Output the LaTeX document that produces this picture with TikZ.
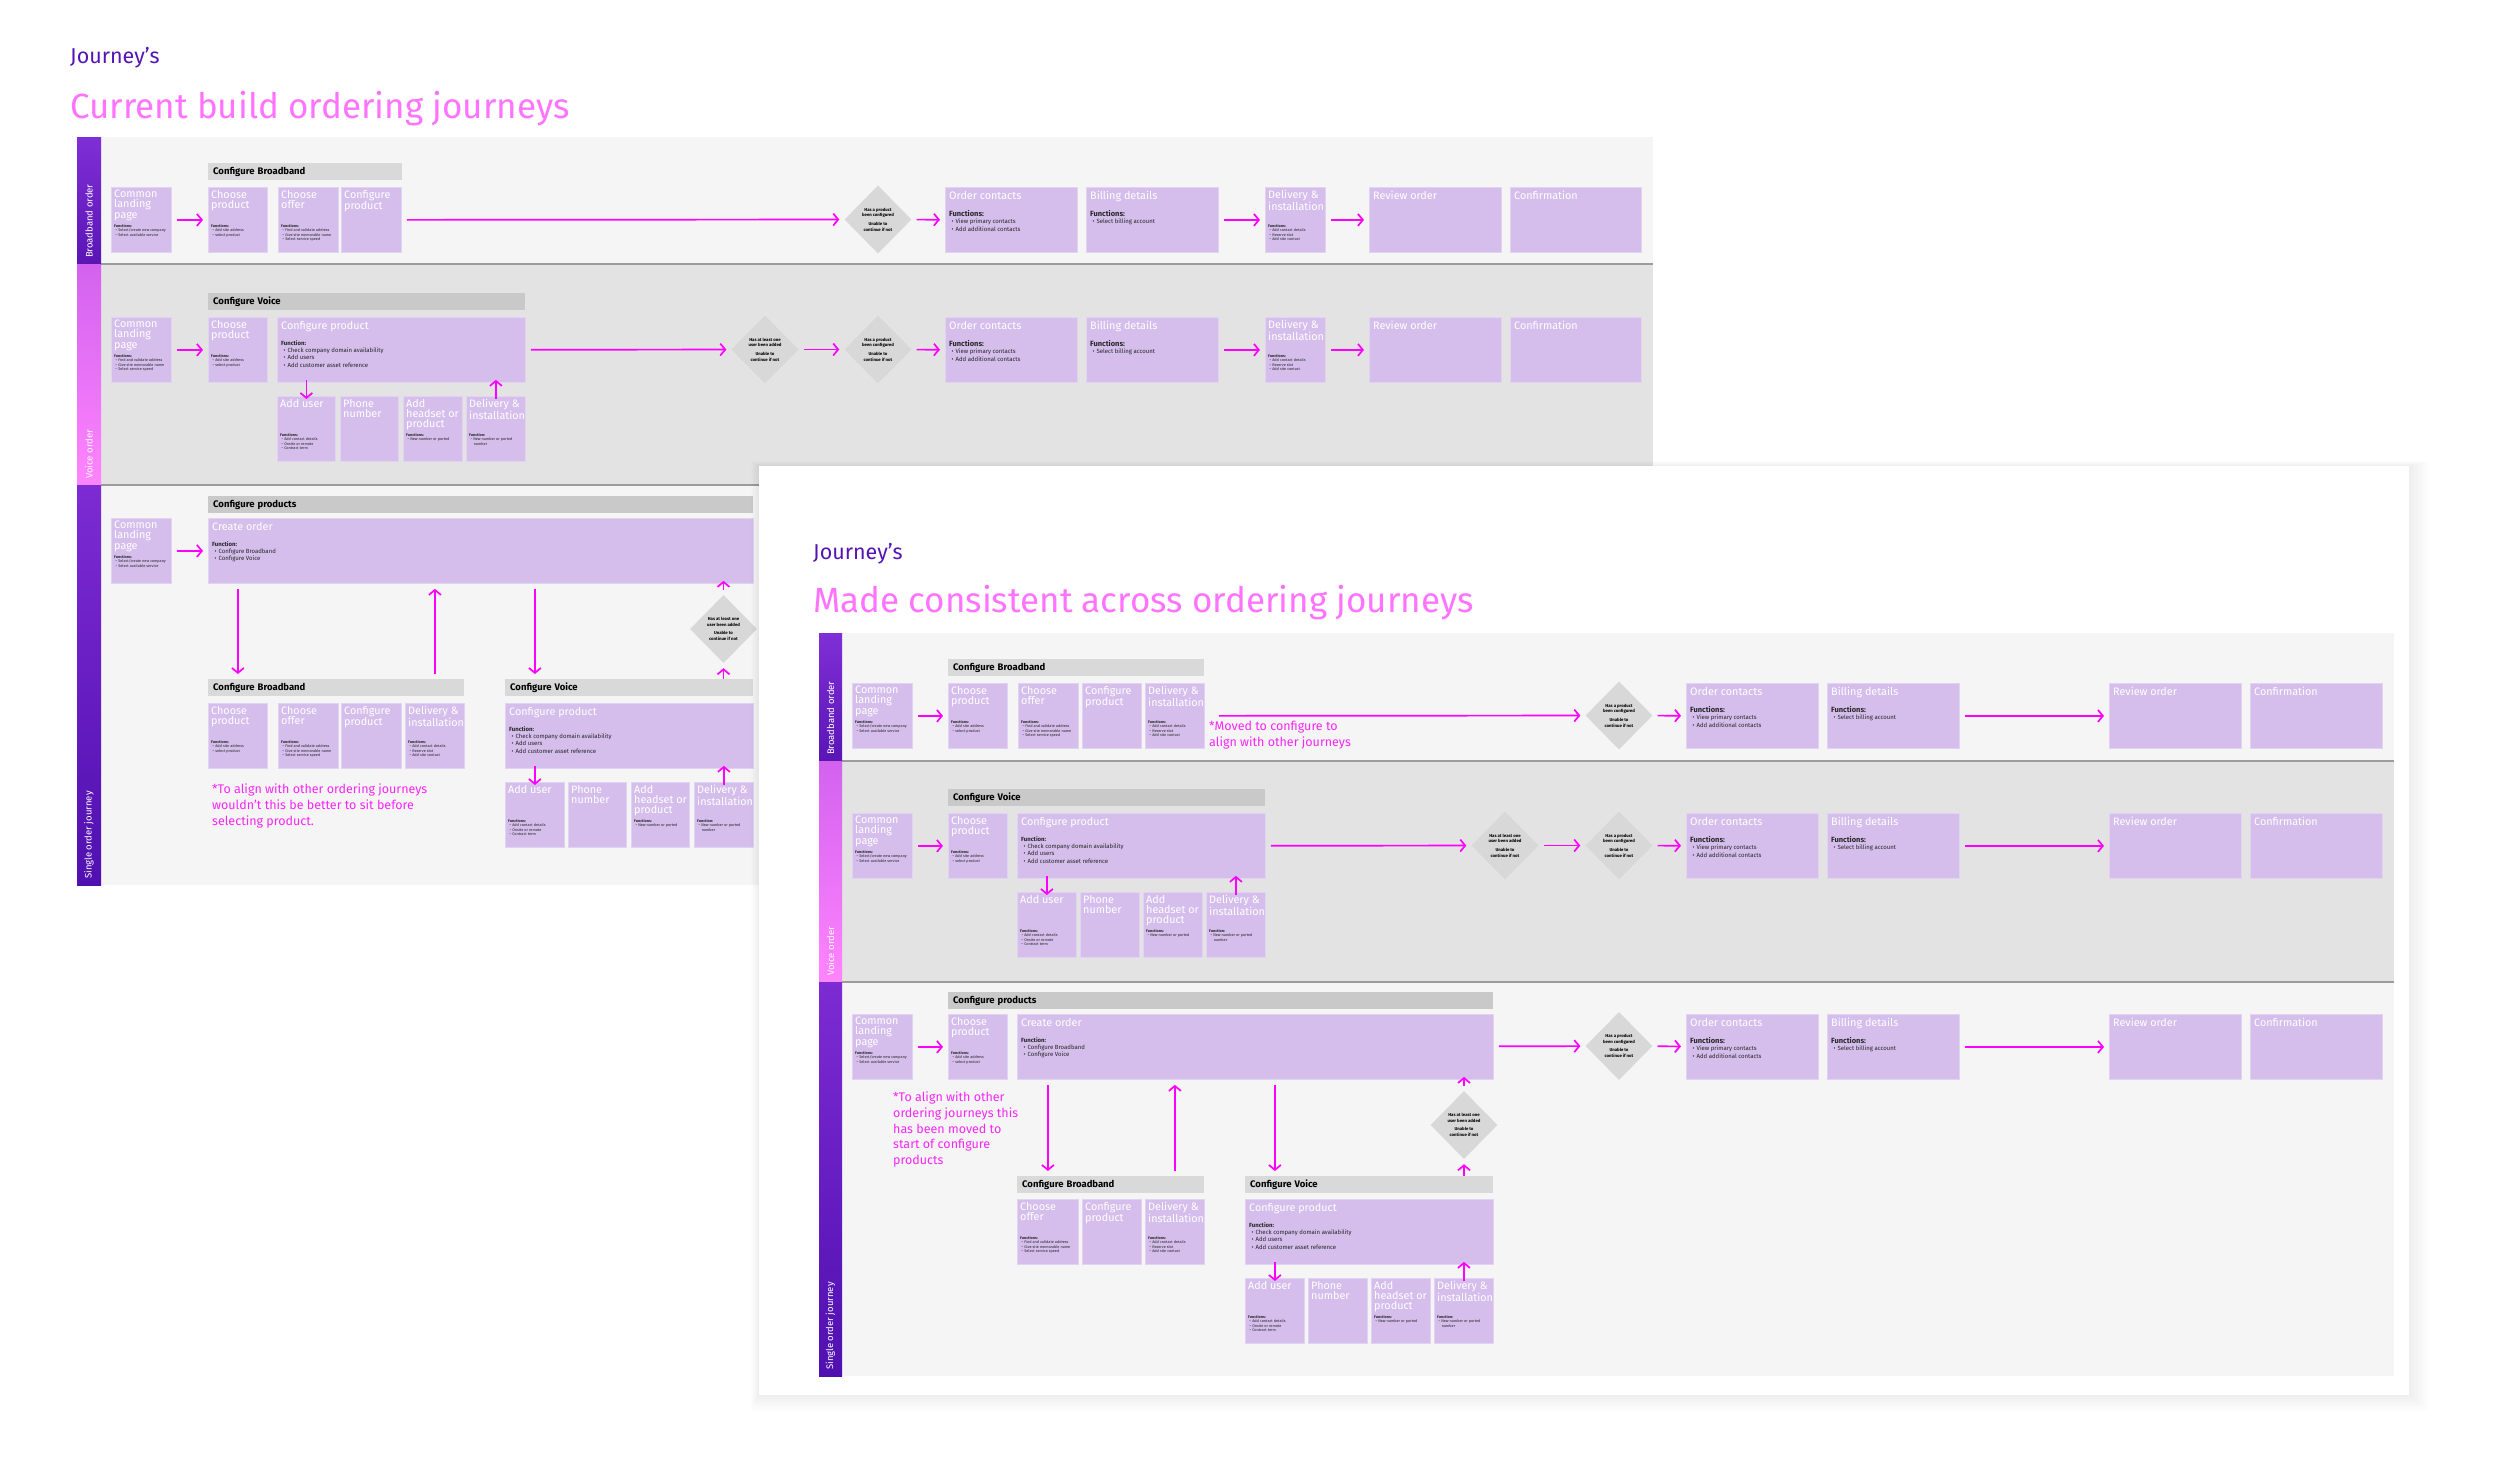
\documentclass[tikz,border=0pt]{standalone}
\usepackage{fontspec}
\setmainfont{Fira Sans}
\usetikzlibrary{arrows.meta,shapes.geometric}
\definecolor{btpurple}{HTML}{5514B4}
\definecolor{flowpink}{HTML}{FF00FF}
\definecolor{titlepink}{HTML}{FF73FF}
\definecolor{notepink}{HTML}{F726F7}
\definecolor{cardfill}{HTML}{D5BEEC}
\definecolor{cardedge}{HTML}{E2D3F3}
\definecolor{lanelight}{HTML}{F5F5F5}
\definecolor{lanedark}{HTML}{E3E3E3}
\definecolor{headlight}{HTML}{D9D9D9}
\definecolor{headdark}{HTML}{C9C9C9}
\definecolor{decfill}{HTML}{D8D8D8}
\definecolor{sepgray}{HTML}{9C9C9C}
\definecolor{bbtop}{HTML}{7F2FD6}
\definecolor{bbbot}{HTML}{5A15B5}
\definecolor{vctop}{HTML}{D262EE}
\definecolor{vcbot}{HTML}{FF84FF}
\definecolor{sgtop}{HTML}{7D2BD3}
\definecolor{sgbot}{HTML}{5010B0}
\newcommand\fsz[2]{\fontsize{#1}{#2}\selectfont}
\newcommand\fbul{\hspace*{0.4em}\textbullet\hspace{0.35em}}
\newcommand\fnhead[1]{\textbf{#1}}
\newcommand\bighead[1]{{\fsz{7.5}{8}\bfseries #1}}
\newcommand\stepcard[7]{%
\node[card, minimum width=#4pt, minimum height=#5pt] (#1) at (#2,#3) {};
\node[ctitle] (#1-t) at ([shift={(3,3)}]#1.north west) {#6};
\node[cbody] (#1-b) at ([shift={(3,37)}]#1.north west) {#7};}
\newcommand\widecard[7]{%
\node[card, minimum width=#4pt, minimum height=#5pt] (#1) at (#2,#3) {};
\node[ctitle] (#1-t) at ([shift={(4,4)}]#1.north west) {#6};
\node[wbody] (#1-b) at ([shift={(4,23)}]#1.north west) {#7};}
\newcommand\grouphdr[6]{%
\pgfmathsetmacro\headw{#4-10}
\node[grouphead, fill=#5, text width=\headw pt] (#1) at (#2,#3) {#6};}
\newcommand\checkpt[4]{%
\node[checkpoint] (#1) at (#2,#3) {};
\node[checktext] (#1-t) at (#1) {#4\\[3pt]Unable to\\continue if not};}

\begin{document}
\begin{tikzpicture}[x=1pt, y=-1pt,
card/.style={rectangle, fill=cardfill, draw=cardedge, line width=0.8pt, inner sep=0, anchor=north west},
ctitle/.style={inner sep=0, anchor=north west, align=left, text=white, font=\fsz{10.8}{10.2}},
cbody/.style={inner sep=0, anchor=north west, align=left, text=black!85, font=\fsz{3.8}{4.4}},
wbody/.style={inner sep=0, anchor=north west, align=left, text=black!85, font=\fsz{6}{7.4}},
grouphead/.style={anchor=north west, inner xsep=5pt, inner ysep=0, minimum height=17pt, align=left, font=\bfseries\fsz{9.5}{10}},
checkpoint/.style={diamond, fill=decfill, minimum width=67pt, minimum height=68pt, inner sep=0},
checktext/.style={align=center, inner sep=0, font=\bfseries\fsz{4.3}{5.6}},
flow/.style={draw=flowpink, line width=1.7pt, -{Straight Barb[length=5pt,width=12pt]}, shorten <=5pt, shorten >=5pt},
stub/.style={flow, shorten <=-3pt, shorten >=-3pt},
lanelabel/.style={rotate=90, anchor=west, inner sep=0, text=white, font=\fsz{9.5}{10}},
note/.style={anchor=north west, inner sep=0, align=left, text=notepink, font=\fsz{12.5}{15.6}},
pagetitle/.style={anchor=base west, inner sep=0, text=titlepink, font=\fsz{35}{40}},
kicker/.style={anchor=base west, inner sep=0, text=btpurple, font=\fsz{21.5}{24}}]
\useasboundingbox (0,0) rectangle (2500,1468);
\fill[white] (0,0) rectangle (2500,1468);
\node[kicker] (k1) at (70,63) {Journey’s};
\node[pagetitle] (t1) at (70,118) {Current build ordering journeys};
\fill[lanelight] (101,137) rectangle (1653,264);
\fill[lanedark] (101,264) rectangle (1653,485);
\fill[lanelight] (101,485) rectangle (1653,885);
\draw[sepgray, line width=1.5pt] (101,264) -- (1653,264);
\draw[sepgray, line width=1.5pt] (101,485) -- (1653,485);
\shade[top color=bbtop, bottom color=bbbot] (77,137) rectangle (101,264);
\shade[top color=vctop, bottom color=vcbot] (77,264) rectangle (101,485);
\shade[top color=sgtop, bottom color=sgbot] (77,485) rectangle (101,885);
\node[lanelabel] (lb1) at (89,258) {Broadband order};
\node[lanelabel] (lv1) at (89,479) {Voice order};
\node[lanelabel] (ls1) at (89,879) {Single order journey};
\grouphdr{bh1}{208}{163}{194}{headlight}{Configure Broadband}
\stepcard{bl1}{111}{187}{60}{65}{Common\\landing\\page}{\fnhead{Functions:}\\\fbul Select/create new company\\\fbul Select available service}
\stepcard{bp1}{208}{187}{59}{65}{Choose\\product}{\fnhead{Functions:}\\\fbul Add site address\\\fbul select product}
\stepcard{bf1}{278}{187}{60}{65}{Choose\\offer}{\fnhead{Functions:}\\\fbul Find and validate address\\\fbul Give site memorable name\\\fbul Select service speed}
\stepcard{bc1}{341}{187}{60}{65}{Configure\\product}{}
\checkpt{bd1}{878}{219.5}{Has a product\\been configured}
\widecard{bo1}{945}{187}{132}{65}{Order contacts}{\bighead{Functions:}\\\fbul View primary contacts\\\fbul Add additional contacts}
\widecard{bb1}{1086}{187}{132}{65}{Billing details}{\bighead{Functions:}\\\fbul Select billing account}
\stepcard{bi1}{1265}{187}{60}{65}{Delivery \&\\installation}{\fnhead{Functions:}\\\fbul Add contact details\\\fbul Reserve slot\\\fbul Add site contact}
\widecard{br1}{1369}{187}{132}{65}{Review order}{}
\widecard{bx1}{1510}{187}{131}{65}{Confirmation}{}
\draw[flow] (bl1) -- (bp1);
\draw[flow] (bc1) -- (bd1);
\draw[flow] (bd1) -- (bo1);
\draw[flow] (bb1) -- (bi1);
\draw[flow] (bi1) -- (br1);
\grouphdr{vh1}{208}{293}{317}{headdark}{Configure Voice}
\stepcard{vl1}{111}{317}{60}{65}{Common\\landing\\page}{\fnhead{Functions:}\\\fbul Find and validate address\\\fbul Give site memorable name\\\fbul Select service speed}
\stepcard{vp1}{208}{317}{59}{65}{Choose\\product}{\fnhead{Functions:}\\\fbul Add site address\\\fbul select product}
\widecard{vc1}{277}{317}{248}{65}{Configure product}{\fnhead{Function:}\\\fbul Check company domain availability\\\fbul Add users\\\fbul Add customer asset reference}
\stepcard{vu1}{277}{396}{58}{65}{Add user}{\fnhead{Functions:}\\\fbul Add contact details\\\fbul Onsite or remote\\\fbul Contract term}
\stepcard{vn1}{340}{396}{58}{65}{Phone\\number}{}
\stepcard{va1}{403}{396}{59}{65}{Add\\headset or\\product}{\fnhead{Functions:}\\\fbul New number or ported}
\stepcard{vi1}{466}{396}{59}{65}{Delivery \&\\installation}{\fnhead{Function:}\\\fbul New number or ported\\\hspace*{1.2em}number}
\checkpt{vq1}{765}{349.5}{Has at least one\\user been added}
\checkpt{vd1}{878}{349.5}{Has a product\\been configured}
\widecard{vo1}{945}{317}{132}{65}{Order contacts}{\bighead{Functions:}\\\fbul View primary contacts\\\fbul Add additional contacts}
\widecard{vb1}{1086}{317}{132}{65}{Billing details}{\bighead{Functions:}\\\fbul Select billing account}
\stepcard{vy1}{1265}{317}{60}{65}{Delivery \&\\installation}{\fnhead{Functions:}\\\fbul Add contact details\\\fbul Reserve slot\\\fbul Add site contact}
\widecard{vr1}{1369}{317}{132}{65}{Review order}{}
\widecard{vx1}{1510}{317}{131}{65}{Confirmation}{}
\draw[flow] (vl1) -- (vp1);
\draw[flow] (vc1) -- (vq1);
\draw[flow] (vq1) -- (vd1);
\draw[flow] (vd1) -- (vo1);
\draw[flow] (vb1) -- (vy1);
\draw[flow] (vy1) -- (vr1);
\draw[stub] (vc1.south -| vu1) -- (vu1.north);
\draw[stub] (vi1.north) -- (vc1.south -| vi1);
\grouphdr{sh1}{208}{496}{545}{headdark}{Configure products}
\stepcard{sl1}{111}{518}{60}{65}{Common\\landing\\page}{\fnhead{Functions:}\\\fbul Select/create new company\\\fbul Select available service}
\widecard{so1}{208}{518}{545}{65}{Create order}{\fnhead{Function:}\\\fbul Configure Broadband\\\fbul Configure Voice}
\grouphdr{sbh1}{208}{679}{256}{headlight}{Configure Broadband}
\stepcard{sbp1}{208}{703}{59}{65}{Choose\\product}{\fnhead{Functions:}\\\fbul Add site address\\\fbul select product}
\stepcard{sbf1}{278}{703}{60}{65}{Choose\\offer}{\fnhead{Functions:}\\\fbul Find and validate address\\\fbul Give site memorable name\\\fbul Select service speed}
\stepcard{sbc1}{341}{703}{60}{65}{Configure\\product}{}
\stepcard{sbi1}{405}{703}{59}{65}{Delivery \&\\installation}{\fnhead{Functions:}\\\fbul Add contact details\\\fbul Reserve slot\\\fbul Add site contact}
\grouphdr{svh1}{505}{679}{248}{headlight}{Configure Voice}
\widecard{svc1}{505}{703}{248}{65}{Configure product}{\fnhead{Function:}\\\fbul Check company domain availability\\\fbul Add users\\\fbul Add customer asset reference}
\stepcard{svu1}{505}{782}{59}{65}{Add user}{\fnhead{Functions:}\\\fbul Add contact details\\\fbul Onsite or remote\\\fbul Contract term}
\stepcard{svn1}{568}{782}{58}{65}{Phone\\number}{}
\stepcard{sva1}{631}{782}{58}{65}{Add\\headset or\\product}{\fnhead{Functions:}\\\fbul New number or ported}
\stepcard{svi1}{694}{782}{59}{65}{Delivery \&\\installation}{\fnhead{Function:}\\\fbul New number or ported\\\hspace*{1.2em}number}
\checkpt{sq1}{723.5}{629}{Has at least one\\user been added}
\node[note] (sn1) at (212,784) {*To align with other ordering journeys\\wouldn’t this be better to sit before\\selecting product.};
\draw[flow] (sl1) -- (so1);
\draw[flow] (so1.south -| sbp1) -- (sbh1.north -| sbp1);
\draw[flow] (sbh1.north -| sbi1) -- (so1.south -| sbi1);
\draw[flow] (so1.south -| svu1) -- (svh1.north -| svu1);
\draw[flow, shorten <=0pt] (svh1.north -| sq1) -- (sq1.south);
\draw[flow, shorten >=-3pt] (sq1.north) -- (so1.south -| sq1);
\draw[stub] (svc1.south -| svu1) -- (svu1.north);
\draw[stub] (svi1.north) -- (svc1.south -| svi1);
\foreach \s in {1,...,8}
\fill[black, opacity=0.008] (759-\s,466-\s*0.6) rectangle (2409+\s*2.5,1395+\s*2);
\fill[white] (759,466) rectangle (2409,1395);
\node[kicker] (k2) at (813,559) {Journey’s};
\node[pagetitle] (t2) at (813,612) {Made consistent across ordering journeys};
\fill[lanelight] (842,633) rectangle (2394,761);
\fill[lanedark] (842,761) rectangle (2394,982);
\fill[lanelight] (842,982) rectangle (2394,1376);
\draw[sepgray, line width=1.5pt] (842,761) -- (2394,761);
\draw[sepgray, line width=1.5pt] (842,982) -- (2394,982);
\shade[top color=bbtop, bottom color=bbbot] (819,633) rectangle (842,761);
\shade[top color=vctop, bottom color=vcbot] (819,761) rectangle (842,982);
\shade[top color=sgtop, bottom color=sgbot] (819,982) rectangle (842,1376);
\node[lanelabel] (lb2) at (830.5,755) {Broadband order};
\node[lanelabel] (lv2) at (830.5,976) {Voice order};
\node[lanelabel] (ls2) at (830.5,1370) {Single order journey};
\grouphdr{bh2}{948}{659}{256}{headlight}{Configure Broadband}
\stepcard{bl2}{852}{683}{60}{65}{Common\\landing\\page}{\fnhead{Functions:}\\\fbul Select/create new company\\\fbul Select available service}
\stepcard{bp2}{948}{683}{59}{65}{Choose\\product}{\fnhead{Functions:}\\\fbul Add site address\\\fbul select product}
\stepcard{bf2}{1018}{683}{60}{65}{Choose\\offer}{\fnhead{Functions:}\\\fbul Find and validate address\\\fbul Give site memorable name\\\fbul Select service speed}
\stepcard{bc2}{1082}{683}{59}{65}{Configure\\product}{}
\stepcard{bi2}{1145}{683}{59}{65}{Delivery \&\\installation}{\fnhead{Functions:}\\\fbul Add contact details\\\fbul Reserve slot\\\fbul Add site contact}
\node[note] (bn2) at (1209,721) {*Moved to configure to\\align with other journeys};
\checkpt{bd2}{1619}{715.5}{Has a product\\been configured}
\widecard{bo2}{1686}{683}{132}{65}{Order contacts}{\bighead{Functions:}\\\fbul View primary contacts\\\fbul Add additional contacts}
\widecard{bb2}{1827}{683}{132}{65}{Billing details}{\bighead{Functions:}\\\fbul Select billing account}
\widecard{br2}{2109}{683}{132}{65}{Review order}{}
\widecard{bx2}{2250}{683}{132}{65}{Confirmation}{}
\draw[flow] (bl2) -- (bp2);
\draw[flow, shorten <=14pt] (bi2) -- (bd2);
\draw[flow] (bd2) -- (bo2);
\draw[flow] (bb2) -- (br2);
\grouphdr{vh2}{948}{789}{317}{headdark}{Configure Voice}
\stepcard{vl2}{852}{813}{60}{65}{Common\\landing\\page}{\fnhead{Functions:}\\\fbul Select/create new company\\\fbul Select available service}
\stepcard{vp2}{948}{813}{59}{65}{Choose\\product}{\fnhead{Functions:}\\\fbul Add site address\\\fbul select product}
\widecard{vc2}{1017}{813}{248}{65}{Configure product}{\fnhead{Function:}\\\fbul Check company domain availability\\\fbul Add users\\\fbul Add customer asset reference}
\stepcard{vu2}{1017}{892}{59}{65}{Add user}{\fnhead{Functions:}\\\fbul Add contact details\\\fbul Onsite or remote\\\fbul Contract term}
\stepcard{vn2}{1080}{892}{59}{65}{Phone\\number}{}
\stepcard{va2}{1143}{892}{59}{65}{Add\\headset or\\product}{\fnhead{Functions:}\\\fbul New number or ported}
\stepcard{vi2}{1206}{892}{59}{65}{Delivery \&\\installation}{\fnhead{Function:}\\\fbul New number or ported\\\hspace*{1.2em}number}
\checkpt{vq2}{1505}{845.5}{Has at least one\\user been added}
\checkpt{vd2}{1619}{845.5}{Has a product\\been configured}
\widecard{vo2}{1686}{813}{132}{65}{Order contacts}{\bighead{Functions:}\\\fbul View primary contacts\\\fbul Add additional contacts}
\widecard{vb2}{1827}{813}{132}{65}{Billing details}{\bighead{Functions:}\\\fbul Select billing account}
\widecard{vr2}{2109}{813}{132}{65}{Review order}{}
\widecard{vx2}{2250}{813}{132}{65}{Confirmation}{}
\draw[flow] (vl2) -- (vp2);
\draw[flow] (vc2) -- (vq2);
\draw[flow] (vq2) -- (vd2);
\draw[flow] (vd2) -- (vo2);
\draw[flow] (vb2) -- (vr2);
\draw[stub] (vc2.south -| vu2) -- (vu2.north);
\draw[stub] (vi2.north) -- (vc2.south -| vi2);
\grouphdr{sh2}{948}{992}{545}{headdark}{Configure products}
\stepcard{sl2}{852}{1014}{60}{65}{Common\\landing\\page}{\fnhead{Functions:}\\\fbul Select/create new company\\\fbul Select available service}
\stepcard{sp2}{948}{1014}{59}{65}{Choose\\product}{\fnhead{Functions:}\\\fbul Add site address\\\fbul select product}
\widecard{so2}{1017}{1014}{476}{65}{Create order}{\fnhead{Function:}\\\fbul Configure Broadband\\\fbul Configure Voice}
\checkpt{sd2}{1619}{1046}{Has a product\\been configured}
\widecard{sc2}{1686}{1014}{132}{65}{Order contacts}{\bighead{Functions:}\\\fbul View primary contacts\\\fbul Add additional contacts}
\widecard{sb2}{1827}{1014}{132}{65}{Billing details}{\bighead{Functions:}\\\fbul Select billing account}
\widecard{sr2}{2109}{1014}{132}{65}{Review order}{}
\widecard{sx2}{2250}{1014}{132}{65}{Confirmation}{}
\grouphdr{sbh2}{1017}{1176}{187}{headlight}{Configure Broadband}
\stepcard{sbf2}{1017}{1199}{61}{65}{Choose\\offer}{\fnhead{Functions:}\\\fbul Find and validate address\\\fbul Give site memorable name\\\fbul Select service speed}
\stepcard{sbc2}{1082}{1199}{59}{65}{Configure\\product}{}
\stepcard{sbi2}{1145}{1199}{59}{65}{Delivery \&\\installation}{\fnhead{Functions:}\\\fbul Add contact details\\\fbul Reserve slot\\\fbul Add site contact}
\grouphdr{svh2}{1245}{1176}{248}{headlight}{Configure Voice}
\widecard{svc2}{1245}{1199}{248}{65}{Configure product}{\fnhead{Function:}\\\fbul Check company domain availability\\\fbul Add users\\\fbul Add customer asset reference}
\stepcard{svu2}{1245}{1278}{59}{65}{Add user}{\fnhead{Functions:}\\\fbul Add contact details\\\fbul Onsite or remote\\\fbul Contract term}
\stepcard{svn2}{1308}{1278}{59}{65}{Phone\\number}{}
\stepcard{sva2}{1371}{1278}{59}{65}{Add\\headset or\\product}{\fnhead{Functions:}\\\fbul New number or ported}
\stepcard{svi2}{1434}{1278}{59}{65}{Delivery \&\\installation}{\fnhead{Function:}\\\fbul New number or ported\\\hspace*{1.2em}number}
\checkpt{sq2}{1464}{1125}{Has at least one\\user been added}
\node[note] (sn2) at (893,1092) {*To align with other\\ordering journeys this\\has been moved to\\start of configure\\products};
\draw[flow] (sl2) -- (sp2);
\draw[flow] (so2) -- (sd2);
\draw[flow] (sd2) -- (sc2);
\draw[flow] (sb2) -- (sr2);
\draw[flow] (so2.south -| sbf2) -- (sbh2.north -| sbf2);
\draw[flow] (sbh2.north -| sbi2) -- (so2.south -| sbi2);
\draw[flow] (so2.south -| svu2) -- (svh2.north -| svu2);
\draw[flow, shorten <=0pt] (svh2.north -| sq2) -- (sq2.south);
\draw[flow, shorten >=-3pt] (sq2.north) -- (so2.south -| sq2);
\draw[stub] (svc2.south -| svu2) -- (svu2.north);
\draw[stub] (svi2.north) -- (svc2.south -| svi2);
\end{tikzpicture}
\end{document}
